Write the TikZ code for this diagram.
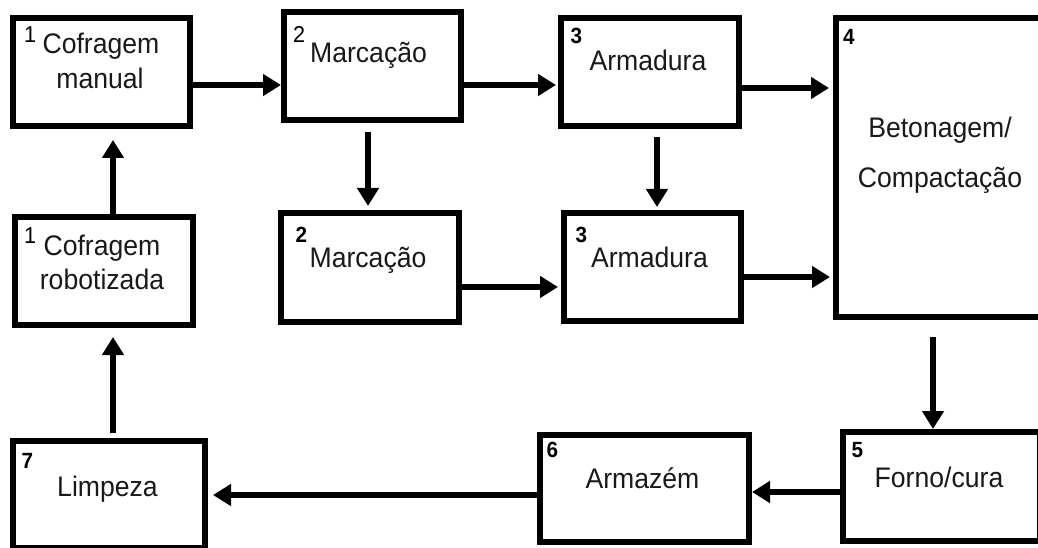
\documentclass[tikz,border=0pt]{standalone}
\usepackage{fontspec}
\setmainfont{Liberation Sans}[FakeStretch=0.94]
\usetikzlibrary{arrows.meta,calc}
\begin{document}
\begin{tikzpicture}[x=1pt,y=-1pt,
  box/.style={draw=black,line width=6pt,rectangle,inner sep=0pt,fill=none},
  txt/.style={font=\fontsize{28.3}{32}\selectfont,inner sep=0pt,anchor=base,text=black!90},
  num/.style={font=\fontsize{23}{26}\selectfont,inner sep=0pt,anchor=base west,text=black},
  bnum/.style={num,font=\fontsize{22}{26}\selectfont\bfseries},
  arr/.style={line width=5.5pt,-{Triangle[length=18pt,width=21pt]}}]
\useasboundingbox (0,0) rectangle (1038,548);
\clip (0,0) rectangle (1038,548);
% boxes
\node[box,minimum width=177pt,minimum height=108pt] (b1) at (101.5,72) {};
\node[box,minimum width=177pt,minimum height=108pt] (b2) at (372.5,66) {};
\node[box,minimum width=178pt,minimum height=108pt] (b3) at (650,72) {};
\node[box,minimum width=209pt,minimum height=299pt] (b4) at (940.5,167.5) {};
\node[box,minimum width=178pt,minimum height=108pt] (r1) at (104,271) {};
\node[box,minimum width=178pt,minimum height=109pt] (m2) at (370,267.5) {};
\node[box,minimum width=177pt,minimum height=108pt] (m3) at (652.5,267) {};
\node[box,minimum width=197pt,minimum height=109pt] (b5) at (941.5,486.5) {};
\node[box,minimum width=209pt,minimum height=107pt] (b6) at (644.5,488.5) {};
\node[box,minimum width=192pt,minimum height=107pt] (b7) at (109,494.5) {};
% texts
\node[txt] (t1a) at (101,54) {Cofragem};
\node[txt] (t1b) at (100,89) {manual};
\node[txt] (t2) at (368.5,63) {Marcação};
\node[txt] (t3) at (648,71) {Armadura};
\node[txt] (t4a) at (940,138) {Betonagem/};
\node[txt] (t4b) at (940,188) {Compactação};
\node[txt] (tr1a) at (102,255) {Cofragem};
\node[txt] (tr1b) at (102,289) {robotizada};
\node[txt] (tm2) at (368,267) {Marcação};
\node[txt] (tm3) at (649.5,267) {Armadura};
\node[txt] (t5) at (939,487) {Forno/cura};
\node[txt] (t6) at (642.5,488) {Armazém};
\node[txt] (t7) at (107.5,496) {Limpeza};
% numbers
\node[num] (n1) at (24,43) {1};
\node[num] (n2) at (293,43) {2};
\node[bnum] (n3) at (570.5,44) {3};
\node[bnum] (n4) at (843,45) {4};
\node[num] (nr1) at (24,243) {1};
\node[bnum] (nm2) at (295.5,242) {2};
\node[bnum] (nm3) at (575.5,242) {3};
\node[bnum] (n5) at (851.5,457) {5};
\node[bnum] (n6) at (546.5,457) {6};
\node[bnum] (n7) at (21.5,468) {7};
% connectors
\draw[arr] ($(b1.east)+(0,13)$) -- ($(b2.west)+(0,19)$);
\draw[arr,shorten >=2pt] ($(b2.east)+(0,19)$) -- ($(b3.west)+(0,13)$);
\draw[arr,shorten >=4pt] ($(b3.east)+(0,16)$) -- ($(b4.west)+(0,-79.5)$);
\draw[arr,shorten <=9pt,shorten >=4pt] ($(b2.south)+(-4.5,0)$) -- ($(m2.north)+(-2,0)$);
\draw[arr,shorten <=8pt,shorten >=3pt] ($(b3.south)+(7,0)$) -- ($(m3.north)+(4.5,0)$);
\draw[arr,shorten >=3pt] ($(m2.east)+(0,19.5)$) -- ($(m3.west)+(0,20)$);
\draw[arr,shorten >=3pt] ($(m3.east)+(0,10)$) -- ($(b4.west)+(0,109.5)$);
\draw[arr,shorten <=17pt] ($(b4.south)+(-7.5,0)$) -- ($(b5.north)+(-8.5,0)$);
\draw[arr] ($(b5.west)+(0,5.5)$) -- ($(b6.east)+(0,3.5)$);
\draw[arr,shorten >=5pt] ($(b6.west)+(0,6.5)$) -- ($(b7.east)+(0,0.5)$);
\draw[arr,shorten <=5pt,shorten >=9pt] ($(b7.north)+(4,0)$) -- ($(r1.south)+(9,0)$);
\draw[arr,shorten >=11pt] ($(r1.north)+(9,0)$) -- ($(b1.south)+(11.5,0)$);
\end{tikzpicture}
\end{document}
